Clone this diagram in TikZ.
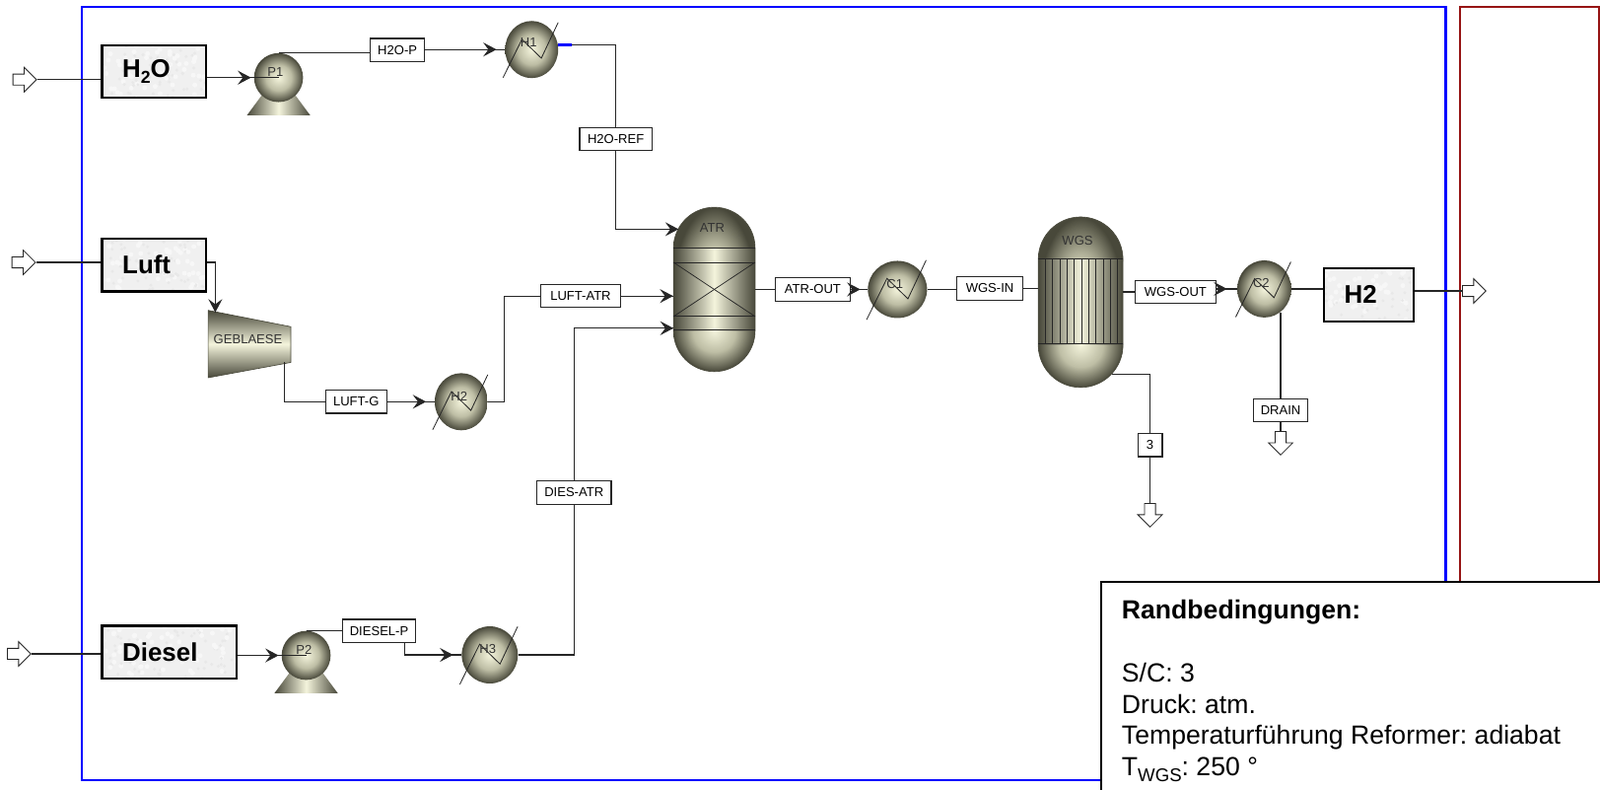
\documentclass[tikz,border=0pt]{standalone}
\usepackage{fontspec}
\setmainfont{Liberation Sans}
\usetikzlibrary{arrows.meta,shapes.geometric,shapes.arrows}
\definecolor{ballmid}{RGB}{244,244,220}
\definecolor{ballshade}{RGB}{190,190,165}
\definecolor{balledge}{RGB}{72,72,58}
\definecolor{framered}{RGB}{150,20,20}
\pgfdeclareradialshading{hxball}{\pgfpointorigin}{color(0bp)=(ballmid); color(13bp)=(ballshade); color(25bp)=(balledge); color(50bp)=(balledge)}
\frenchspacing

\begin{document}
\begin{tikzpicture}[x=.5pt,y=-.5pt]
%----------estilos---------
\tikzset{stream/.style={draw=black!85,line width=.55pt},
flow/.style={stream,postaction={draw,shorten >=#1,-{Stealth[length=6.5pt,width=6.8pt,inset=2.5pt]}}},
flow/.default=0pt,
tag/.style={rectangle,draw=black!85,fill=white,line width=.55pt,inner sep=0pt,minimum height=11.3pt,minimum width=.5pt*#1,font=\fontsize{6.3}{7}\selectfont},
unitname/.style={inner sep=0pt,text=black!80,font=\fontsize{6.3}{7}\selectfont},
bigbox/.style={rectangle,draw=black,line width=1pt,fill=black!6,inner ysep=0pt,inner xsep=10pt,align=left,minimum height=26pt,font=\fontsize{12.5}{14}\selectfont\bfseries,
path picture={%
    \foreach \i in {1,...,70}{
    \fill [black!3] ([shift={(rand*70,rand*27)}]path picture bounding box.center) circle (1.2pt);
    \fill [black!9] ([shift={(rand*70,rand*27)}]path picture bounding box.center) circle (.8pt);
    }}},
feedarrow/.style={single arrow,draw=black!85,fill=white,line width=.4pt,inner xsep=0pt,inner ysep=2.5pt,minimum height=11.5pt,single arrow head extend=3.3pt},
hx/.style={ellipse,shade,shading=hxball,inner sep=0pt,minimum width=.5pt*#1,minimum height=28pt},
vessel/.style n args={2}{rectangle,rounded corners=#1pt,draw=balledge,line width=.3pt,inner sep=0pt,minimum width=2*#1pt,minimum height=#2pt,
path picture={%
    \shade[shading=hxball] ([yshift=-#1pt]path picture bounding box.north) circle (#1pt);
    \shade[shading=hxball] ([yshift=#1pt]path picture bounding box.south) circle (#1pt);
    \shade[sharp corners,left color=balledge,right color=balledge,middle color=ballmid] ([yshift=-#1pt]path picture bounding box.north west) rectangle ([yshift=#1pt]path picture bounding box.south east);
    }}};

\useasboundingbox (0,0) rectangle (1568,773);

%------------ marcos---------------
\draw [blue,line width=1.2pt](80,7) rectangle (1417,764);
\draw [framered,line width=1.2pt](1431,7) rectangle (1567,600);

%------------ bloques---------------
\node [bigbox,text width=31pt] (H2O) at (151,70) {H\raisebox{-2.6pt}{\fontsize{8.5}{9}\selectfont 2}O};
\node [bigbox,text width=31pt] (Luft) at (151,259.5) {Luft};
\node [bigbox,text width=46pt] (Diesel) at (166,639) {Diesel};
\node [bigbox,text width=24pt] (H2b) at (1341.5,288.5) {H2};

\node [feedarrow] (inH2O) at (21.5,78) {};
\node [feedarrow] (inLuft) at (20.5,257) {};
\node [feedarrow] (inDiesel) at (16,640.5) {};
\node [feedarrow] (outH2) at (1442,285) {};
\node [feedarrow,rotate=270] (outDrain) at (1255,431.5) {};
\node [feedarrow,rotate=270] (outThree) at (1127,502) {};

%------------ bombas---------------
\foreach \pumpname/\px/\py in {P1/273/76,P2/300/642}{
\shade [left color=balledge,right color=balledge,middle color=ballmid] (\px-31,\py+37)--(\px-14,\py+14)--(\px+14,\py+14)--(\px+31,\py+37)--cycle;
\node [ellipse,shade,shading=hxball,inner sep=0pt,minimum width=24pt,minimum height=24pt] (\pumpname) at (\px,\py) {};
}
\node [unitname] (P1name) at (270,71) {P1};
\node [unitname] (P2name) at (298,637) {P2};

%------------ intercambiadores---------------
\node [hx=52] (H1) at (521,48.5) {};
\node [hx=52] (H2) at (452,393.5) {};
\node [hx=55] (H3) at (480,641.5) {};
\node [hx=58] (C1) at (879.5,283.5) {};
\node [hx=53] (C2) at (1239,283) {};
\foreach \hxname/\sc in {H1/1,H2/1,H3/1.05,C1/1.08,C2/1}{
\draw [black!85,line width=.4pt,shift={(\hxname.center)},scale=\sc] (-28,27.5)--(-9.5,-10)--(9.5,8.5)--(26,-26.5);
}
\node [unitname] (H1name) at (518,42) {H1};
\node [unitname] (H2name) at (450,388) {H2};
\node [unitname] (H3name) at (478,635.5) {H3};
\node [unitname] (C1name) at (877,278) {C1};
\node [unitname] (C2name) at (1236,277.5) {C2};

%------------ soplador---------------
\shade [top color=balledge,bottom color=balledge,middle color=ballmid] (204,304)--(285,320)--(285,355)--(204,370)--cycle;
\draw [balledge,line width=.3pt] (204,304)--(285,320)--(285,355)--(204,370)--cycle;
\node [unitname] (Geblaese) at (243,332) {GEBLAESE};

%------------ reactores---------------
\node [vessel={20}{80.5}] (ATR) at (700,283.5) {};
\draw [black!85,line width=.5pt] (660,243)--(740,243);
\draw [black!85,line width=.5pt] (660,257)--(740,257);
\draw [black!85,line width=.5pt] (660,310)--(740,310);
\draw [black!85,line width=.5pt] (660,323.5)--(740,323.5);
\draw [black!85,line width=.35pt] (660,257)--(740,310);
\draw [black!85,line width=.35pt] (660,310)--(740,257);
\node [unitname] (ATRname) at (698,223) {ATR};

\node [vessel={20.75}{83.5}] (WGS) at (1059,296) {};
\draw [black!85,line width=.5pt] (1017.5,254)--(1100.5,254);
\draw [black!85,line width=.5pt] (1017.5,337)--(1100.5,337);
\foreach \sx in {0,...,10}{
\draw [black!85,line width=.35pt] (1024.4+7.1*\sx,254)--(1024.4+7.1*\sx,337);
}
\node [unitname] (WGSname) at (1056,236) {WGS};

%------------ etiquetas---------------
\node [tag=53] (tagHtwoOP) at (389.5,49) {H2O-P};
\node [tag=71] (tagHtwoORef) at (603.5,136) {H2O-REF};
\node [tag=78] (tagLuftAtr) at (569,290) {LUFT-ATR};
\node [tag=60] (tagLuftG) at (349,393.5) {LUFT-G};
\node [tag=73] (tagDiesAtr) at (562.5,482.5) {DIES-ATR};
\node [tag=71] (tagDieselP) at (371.5,618) {DIESEL-P};
\node [tag=73] (tagAtrOut) at (796.5,283.5) {ATR-OUT};
\node [tag=64] (tagWgsIn) at (970,282.5) {WGS-IN};
\node [tag=79] (tagWgsOut) at (1152,286) {WGS-OUT};
\node [tag=53] (tagDrain) at (1255,402) {DRAIN};
\node [tag=24] (tagThree) at (1127,436) {3};

% -----------puntos libres----------------
\coordinate (Hone) at (547,44);
\coordinate (Hstub) at (560,44);
\coordinate (ATRa) at (665,224.5);
\coordinate (ATRc) at (660,321.5);
\coordinate (Gin) at (211,306);
\coordinate (Gout) at (278.6,355);
\coordinate (Cdrain) at (1255,306);
\coordinate (WGSbot) at (1090,366.5);

% -----------corrientes----------------
\draw [stream](inH2O.tip)--(inH2O.tip -| H2O.west);
\draw [stream](inLuft.tip)--(inLuft.tip -| Luft.west);
\draw [stream](inDiesel.tip)--(inDiesel.tip -| Diesel.west);

\draw [flow=13.5pt](H2O.east |- P1.center)--(P1.center);
\draw [stream](P1.north)--(P1.north -| tagHtwoOP.west);
\draw [flow=4pt](tagHtwoOP.east |- H1.west)--(H1.west);
\draw [blue,line width=1.4pt](Hone)--(Hstub);
\draw [stream](Hstub)-|(tagHtwoORef.north);
\draw [flow](tagHtwoORef.south)|-(ATRa);

\draw [flow](inLuft.tip -| Luft.east)-|(Gin);
\draw [stream](Gout)|-(tagLuftG.west);
\draw [flow=4pt](tagLuftG.east)--(H2.west);
\draw [stream](H2.east)--++(15.5,0)|-(tagLuftAtr.west);
\draw [flow](tagLuftAtr.east)--(tagLuftAtr.east -| ATR.west);

\draw [flow=13.5pt](Diesel.east |- P2.center)--(P2.center);
\draw [stream](P2.north)--(P2.north -| tagDieselP.west);
\draw [flow=4pt]([xshift=12.5pt]tagDieselP.south)|-(H3.west);
\draw [stream](H3.east)-|(tagDiesAtr.south);
\draw [flow](tagDiesAtr.north)|-(ATRc);

\draw [stream](ATR.east)--(tagAtrOut.west);
\draw [flow=3.5pt](tagAtrOut.east)--(C1.west);
\draw [stream](C1.east)--(C1.east -| tagWgsIn.west);
\draw [stream](tagWgsIn.east)--(tagWgsIn.east -| WGS.west);
\draw [stream](tagWgsOut.west -| WGS.east)--(tagWgsOut.west);
\draw [flow=4.8pt](tagWgsOut.east |- C2.west)--(C2.west);
\draw [stream](C2.east)--(C2.east -| H2b.west);
\draw [stream](H2b.east |- outH2.tail)--(outH2.tail);
\draw [stream](Cdrain)--(tagDrain.north);
\draw [stream](tagDrain.south)--(outDrain.tail);
\draw [stream](WGSbot)-|(tagThree.north);
\draw [stream](tagThree.south)--(outThree.tail);

% -----------recuadro----------------
\draw [black,fill=white,line width=1.1pt](1079,570) rectangle (1590,800);
\node [anchor=north west,inner sep=0pt,align=left,font=\fontsize{12.85}{15.35}\selectfont] (Rand) at (1099,587.5) {\textbf{Randbedingungen:}\\[15.35pt]S/C: 3\\Druck: atm.\\Temperaturführung Reformer: adiabat\\T\raisebox{-2.6pt}{\fontsize{9}{10}\selectfont WGS}: 250 °};
\end{tikzpicture}
\end{document}
